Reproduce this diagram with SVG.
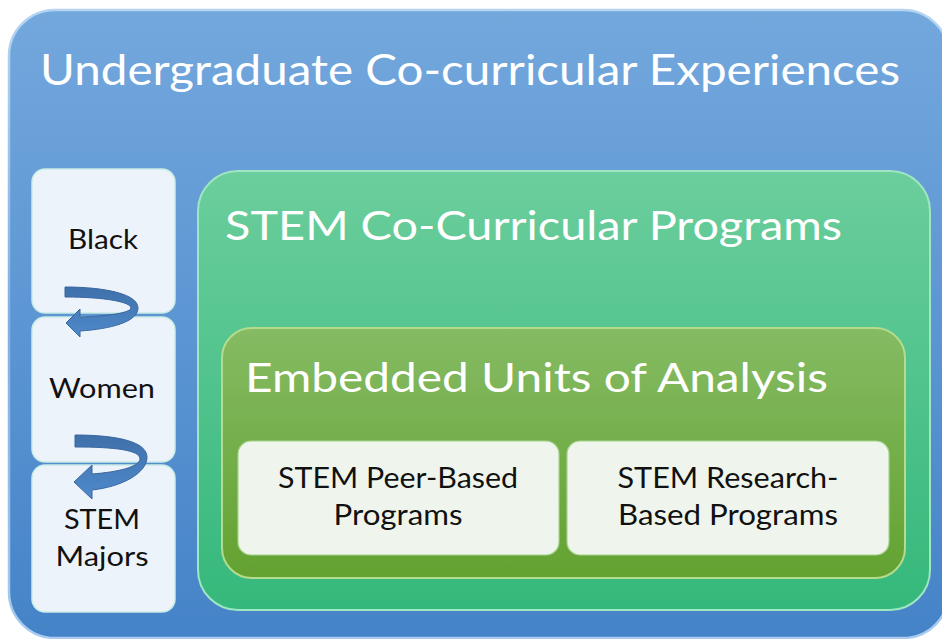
<svg xmlns="http://www.w3.org/2000/svg" width="942" height="639" viewBox="0 0 942 639">
  <defs>
    <linearGradient id="gBlue" x1="0" y1="0" x2="0" y2="1">
      <stop offset="0" stop-color="#73A8DD"/>
      <stop offset="1" stop-color="#4583C8"/>
    </linearGradient>
    <linearGradient id="gBlueEdge" x1="0" y1="0" x2="0" y2="1">
      <stop offset="0" stop-color="#B6D4F2"/>
      <stop offset="0.5" stop-color="#7FB0E2"/>
      <stop offset="1" stop-color="#A9CCF0"/>
    </linearGradient>
    <linearGradient id="gGreen" x1="0" y1="0" x2="0" y2="1">
      <stop offset="0" stop-color="#6BCE9C"/>
      <stop offset="1" stop-color="#35B87B"/>
    </linearGradient>
    <linearGradient id="gOlive" x1="0" y1="0" x2="0" y2="1">
      <stop offset="0" stop-color="#85BB63"/>
      <stop offset="1" stop-color="#63A231"/>
    </linearGradient>
    <linearGradient id="gArrow" x1="0" y1="0" x2="0" y2="1">
      <stop offset="0" stop-color="#3F70AA"/>
      <stop offset="1" stop-color="#4F8ACB"/>
    </linearGradient>
  </defs>
  <style>
    .title { font-family: Lato, "Open Sans", "Liberation Sans", sans-serif; fill: #FFFFFF; }
    .label { font-family: Lato, "Open Sans", "Liberation Sans", sans-serif; fill: #111111; text-anchor: middle; }
    .side { fill: #EDF3FB; stroke: #C9ECE6; stroke-width: 1.5; }
    .unit { fill: #EFF5EC; stroke: #A6D48C; stroke-width: 1.2; }
    .arrow { fill: url(#gArrow); stroke: #3A67A0; stroke-width: 1; }
  </style>

  <!-- outer container -->
  <g id="experiences">
    <rect x="9" y="10" width="940" height="628" rx="46" fill="url(#gBlue)" stroke="url(#gBlueEdge)" stroke-width="2.5"/>
    <text class="title" x="40" y="85" font-size="42" textLength="860" lengthAdjust="spacingAndGlyphs">Undergraduate Co-curricular Experiences</text>
  </g>

  <!-- population boxes on the left -->
  <g id="black">
    <rect class="side" x="32" y="169" width="143" height="144" rx="13"/>
    <text class="label" x="103" y="249" font-size="27" textLength="70" lengthAdjust="spacingAndGlyphs">Black</text>
  </g>
  <g id="women">
    <rect class="side" x="32" y="317" width="143" height="145" rx="13"/>
    <text class="label" x="102" y="398" font-size="27" textLength="106" lengthAdjust="spacingAndGlyphs">Women</text>
  </g>
  <g id="stem-majors">
    <rect class="side" x="32" y="465" width="143" height="147" rx="13"/>
    <text class="label" x="102" y="529" font-size="27" textLength="76" lengthAdjust="spacingAndGlyphs">STEM</text>
    <text class="label" x="102" y="566" font-size="27" textLength="93" lengthAdjust="spacingAndGlyphs">Majors</text>
  </g>

  <!-- STEM programs container -->
  <g id="stem-programs">
    <rect x="198" y="171" width="732" height="439" rx="40" fill="url(#gGreen)" stroke="#9FE6C2" stroke-width="2"/>
    <text class="title" x="225" y="240" font-size="41" textLength="617" lengthAdjust="spacingAndGlyphs">STEM Co-Curricular Programs</text>
  </g>

  <!-- embedded units container -->
  <g id="embedded-units">
    <rect x="222" y="328" width="683" height="250" rx="30" fill="url(#gOlive)" stroke="#B5DB8E" stroke-width="2"/>
    <text class="title" x="245" y="392" font-size="40" textLength="583" lengthAdjust="spacingAndGlyphs">Embedded Units of Analysis</text>
  </g>

  <g id="peer-based">
    <rect class="unit" x="238" y="441" width="321" height="114" rx="13"/>
    <text class="label" x="398" y="488" font-size="28" textLength="240" lengthAdjust="spacingAndGlyphs">STEM Peer-Based</text>
    <text class="label" x="398" y="525" font-size="28" textLength="129" lengthAdjust="spacingAndGlyphs">Programs</text>
  </g>
  <g id="research-based">
    <rect class="unit" x="567" y="441" width="322" height="114" rx="13"/>
    <text class="label" x="728" y="488" font-size="28" textLength="221" lengthAdjust="spacingAndGlyphs">STEM Research-</text>
    <text class="label" x="728" y="525" font-size="28" textLength="220" lengthAdjust="spacingAndGlyphs">Based Programs</text>
  </g>

  <!-- curved arrows linking the population boxes -->
  <g id="connectors">
    <path class="arrow" d="M65,287 C105,287 138,294 138,308 C138,322 110,329 80,331 L80,337 L66,323 L80,309 L80,317 C108,316 130,313 131,308 C131,302 105,297 65,297 Z"/>
    <path class="arrow" d="M75,435 C118,435 147,442 147,457 C147,474 120,487 92,490 L92,499 L74,482 L92,465 L92,474 C118,472 139,467 140,459 C140,450 115,447 75,447 Z"/>
  </g>
</svg>
